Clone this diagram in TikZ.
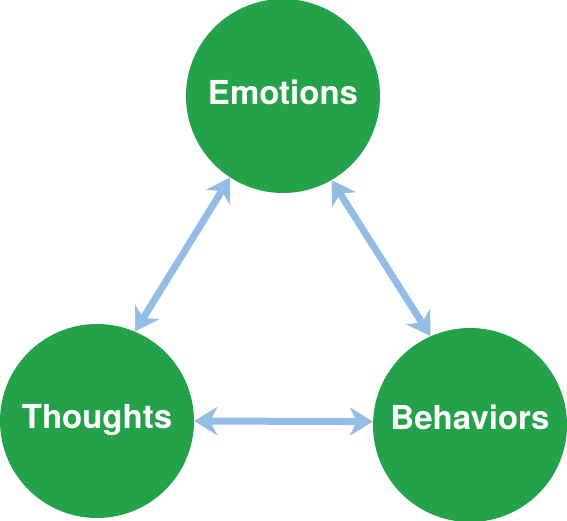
\documentclass[tikz,border=0pt]{standalone}
\usepackage{fontspec}
\setmainfont{TeX Gyre Heros}
\usetikzlibrary{arrows.meta}
\definecolor{cgreen}{HTML}{23A24A}
\definecolor{cblue}{HTML}{94BDE6}
\begin{document}
\begin{tikzpicture}[x=1pt,y=1pt,
  circ/.style={circle,fill=cgreen,draw=none,minimum size=194pt,inner sep=0pt},
  lbl/.style={text=white,font=\fontsize{33}{40}\selectfont\bfseries,anchor=base,inner sep=0pt},
  link/.style={draw=cblue,line width=7pt,{Stealth[length=23pt,width=28pt,inset=7pt]}-{Stealth[length=23pt,width=28pt,inset=7pt]}}]
\useasboundingbox (0,0) rectangle (567,520);
\node[circ] (e) at (283,424) {};
\node[circ] (t) at (97,99) {};
\node[circ] (b) at (470,95) {};
\node[lbl] (el) at ([yshift=-9pt]e.center) {Emotions};
\node[lbl] (tl) at ([yshift=-7pt]t.center) {Thoughts};
\node[lbl] (bl) at ([yshift=-4pt]b.center) {Behaviors};
\draw[link] (e.237) -- (t.67);
\draw[link] (e.300) -- (b.114);
\draw[link] (t.0) -- (b.178);
\end{tikzpicture}
\end{document}
